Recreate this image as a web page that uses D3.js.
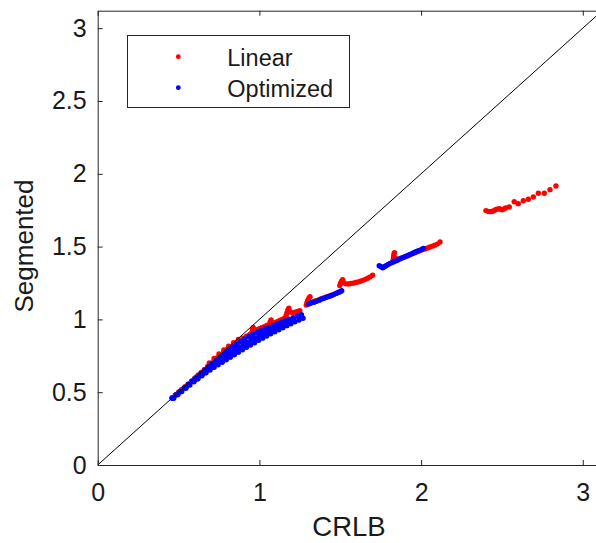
<!DOCTYPE html>
<html><head><meta charset="utf-8">
<script src="https://cdn.jsdelivr.net/npm/d3@7"></script>
<style>body{margin:0;background:#fff}svg{display:block}text{font-family:"Liberation Sans",Arial,Helvetica,sans-serif}</style>
</head><body><svg id="chart" width="596" height="543"></svg>
<script>
const xTicks = [0, 1, 2, 3];
const yTicks = [0, 0.5, 1, 1.5, 2, 2.5, 3];
const xLabel = "CRLB";
const yLabel = "Segmented";
const legendLabels = ["Linear", "Optimized"];
const seriesColors = ["#ff0000", "#0000ff"];

// Linear (red) points [CRLB, Segmented]
const linearPoints = [
 [0.46,0.462],[0.48,0.481],[0.50,0.50],[0.52,0.519],[0.54,0.538],[0.56,0.557],[0.58,0.576],[0.60,0.596],
 [0.62,0.616],[0.64,0.636],[0.66,0.656],[0.68,0.676],[0.70,0.697],[0.72,0.717],[0.74,0.737],[0.76,0.756],
 [0.78,0.775],[0.80,0.793],[0.82,0.81],[0.84,0.826],[0.86,0.842],[0.88,0.856],[0.90,0.87],[0.92,0.884],[0.94,0.897],
 [0.69,0.70],[0.72,0.732],[0.75,0.762],[0.78,0.79],[0.81,0.816],[0.84,0.84],[0.87,0.862],
 [0.955,0.915],[0.958,0.93],[0.962,0.944],[0.97,0.925],[0.985,0.93],[1.0,0.936],[1.015,0.943],[1.03,0.95],[1.045,0.958],
 [1.062,0.965],[1.066,0.98],[1.072,0.996],[1.08,0.975],[1.095,0.978],[1.11,0.985],[1.125,0.993],[1.14,1.0],[1.155,1.008],
 [1.165,1.025],[1.17,1.045],[1.176,1.065],[1.182,1.077],[1.19,1.052],[1.205,1.046],[1.22,1.05],[1.235,1.055],[1.25,1.06],
 [1.29,1.098],[1.294,1.115],[1.299,1.13],[1.306,1.145],[1.313,1.156],[1.32,1.118],[1.335,1.122],[1.35,1.128],[1.365,1.134],
 [1.38,1.14],[1.395,1.146],[1.41,1.152],[1.425,1.158],[1.44,1.164],[1.455,1.17],[1.47,1.177],[1.485,1.184],[1.50,1.19],
 [1.497,1.232],[1.502,1.248],[1.508,1.262],[1.515,1.272],[1.522,1.252],[1.535,1.244],[1.55,1.243],[1.565,1.246],[1.58,1.249],
 [1.595,1.253],[1.61,1.257],[1.625,1.262],[1.64,1.268],[1.655,1.275],[1.67,1.283],[1.685,1.292],[1.70,1.303],
 [1.828,1.412],[1.83,1.43],[1.832,1.446],[1.835,1.458],[1.845,1.418],[1.86,1.414],[1.875,1.42],[1.89,1.426],[1.905,1.432],
 [1.92,1.438],[1.935,1.445],[1.95,1.452],[1.965,1.459],[1.98,1.466],[1.995,1.473],[2.01,1.48],[2.025,1.484],[2.04,1.49],
 [2.055,1.497],[2.07,1.503],[2.085,1.51],[2.10,1.517],[2.117,1.532],
 [2.401,1.747],[2.414,1.742],[2.426,1.74],[2.437,1.742],[2.447,1.745],[2.458,1.751],[2.468,1.756],[2.482,1.76],[2.492,1.757],
 [2.502,1.753],[2.513,1.759],[2.523,1.765],[2.545,1.772],[2.576,1.808],[2.601,1.795],[2.632,1.815],[2.663,1.825],[2.694,1.841],
 [2.725,1.866],[2.762,1.866],[2.797,1.891],[2.834,1.916]
];

// Optimized (blue) points [CRLB, Segmented]
const optimizedPoints = [
 [0.46,0.458],[0.485,0.482],[0.51,0.506],[0.535,0.530],[0.56,0.554],[0.585,0.578],[0.61,0.602],[0.635,0.626],[0.66,0.650],
 [0.685,0.673],[0.71,0.697],[0.735,0.720],[0.76,0.743],[0.785,0.766],[0.81,0.788],[0.835,0.810],[0.86,0.830],[0.885,0.849],
 [0.91,0.866],[0.935,0.882],[0.96,0.896],[0.985,0.910],[1.01,0.922],[1.035,0.934],[1.06,0.945],[1.085,0.957],[1.11,0.968],
 [1.135,0.979],[1.16,0.990],[1.185,1.001],[1.21,1.012],[1.235,1.022],[1.26,1.032],
 [0.47,0.458],[0.495,0.482],[0.52,0.505],[0.545,0.527],[0.57,0.549],[0.595,0.571],[0.62,0.592],[0.645,0.613],[0.67,0.633],
 [0.695,0.652],[0.72,0.671],[0.745,0.689],[0.77,0.706],[0.795,0.723],[0.82,0.740],[0.845,0.757],[0.87,0.774],[0.895,0.791],
 [0.92,0.808],[0.945,0.824],[0.97,0.840],[0.995,0.856],[1.02,0.871],[1.045,0.886],[1.07,0.901],[1.095,0.915],[1.12,0.929],
 [1.145,0.943],[1.17,0.957],[1.195,0.970],[1.22,0.983],[1.245,0.996],[1.27,1.008],
 [0.60,0.585],[0.625,0.607],[0.65,0.628],[0.675,0.65],[0.70,0.672],[0.725,0.693],[0.75,0.713],[0.775,0.734],[0.80,0.754],
 [0.825,0.774],[0.85,0.792],[0.875,0.81],[0.90,0.826],[0.925,0.842],[0.95,0.857],[0.975,0.872],[1.0,0.886],[1.025,0.9],
 [1.05,0.913],[1.075,0.926],[1.10,0.939],[1.125,0.952],[1.15,0.964],[1.175,0.977],[1.20,0.99],
 [0.4975,0.489],[0.5475,0.535],[0.5975,0.581],[0.6475,0.632],[0.6975,0.678],[0.7475,0.721],[0.7975,0.764],[0.8475,0.805],
 [0.8975,0.84],[0.9475,0.872],[0.9975,0.90],[1.0475,0.926],[1.0975,0.95],[1.1475,0.973],[1.1975,0.997],[1.2475,1.012],
 [0.6125,0.591],[0.6625,0.633],[0.7125,0.674],[0.7625,0.712],[0.8125,0.75],[0.8625,0.785],[0.9125,0.818],[0.9625,0.85],
 [1.0125,0.88],[1.0625,0.908],[1.1125,0.936],[1.1625,0.962],[1.2125,0.988],
 [1.305,1.105],[1.315,1.11],[1.323,1.115],[1.338,1.118],[1.354,1.124],[1.37,1.132],[1.385,1.14],[1.40,1.146],[1.416,1.152],
 [1.431,1.158],[1.447,1.164],[1.462,1.172],[1.478,1.18],[1.493,1.188],[1.509,1.197],
 [1.741,1.369],[1.752,1.362],[1.763,1.355],[1.773,1.362],[1.783,1.369],[1.796,1.377],[1.808,1.385],[1.82,1.39],[1.832,1.396],
 [1.846,1.403],[1.859,1.41],[1.872,1.417],[1.886,1.424],[1.90,1.43],[1.915,1.437],[1.928,1.444],[1.942,1.451],[1.955,1.458],
 [1.968,1.465],[1.98,1.47],[1.993,1.474],[2.004,1.481],[2.014,1.488]
];

const svg = d3.select("#chart");
const x = d3.scaleLinear().domain([0, 3.12]).range([97.7, 602.2]);
const y = d3.scaleLinear().domain([0, 3.12]).range([465, 10.7]);
const axisColor = "#262626";

svg.append("defs").append("clipPath").attr("id", "plotClip")
  .append("rect").attr("x", x(0)).attr("y", y(3.12)).attr("width", x(3.12) - x(0)).attr("height", y(0) - y(3.12));

const plot = svg.append("g").attr("clip-path", "url(#plotClip)");
const r = 2.7;
plot.append("g").selectAll("circle").data(linearPoints).join("circle")
  .attr("cx", d => x(d[0])).attr("cy", d => y(d[1])).attr("r", r).attr("fill", seriesColors[0]);
plot.append("g").selectAll("circle").data(optimizedPoints).join("circle")
  .attr("cx", d => x(d[0])).attr("cy", d => y(d[1])).attr("r", r).attr("fill", seriesColors[1]);
plot.append("line").attr("x1", x(0)).attr("y1", y(0)).attr("x2", x(3.12)).attr("y2", y(3.12))
  .attr("stroke", "#000").attr("stroke-width", 1);

function styleAxis(g) {
  g.selectAll("path.domain").attr("stroke", axisColor).attr("stroke-width", 1);
  g.selectAll(".tick line").attr("stroke", axisColor);
  g.selectAll(".tick text").attr("fill", "#1a1a1a").style("font-size", "25px")
    .style("font-family", '"Liberation Sans",Arial,Helvetica,sans-serif');
}
svg.append("g").attr("transform", `translate(0,${y(0)})`)
  .call(d3.axisBottom(x).tickValues(xTicks).tickFormat(d3.format("d")).tickSize(-5).tickSizeOuter(0).tickPadding(18))
  .call(styleAxis);
svg.append("g").attr("transform", `translate(0,${y(3.12)})`)
  .call(d3.axisTop(x).tickValues(xTicks).tickFormat("").tickSize(-5).tickSizeOuter(0))
  .call(styleAxis);
svg.append("g").attr("transform", `translate(${x(0)},0)`)
  .call(d3.axisLeft(y).tickValues(yTicks).tickFormat(d => d === 0 ? "0" : String(d)).tickSize(-5).tickSizeOuter(0).tickPadding(11))
  .call(styleAxis);

svg.append("text").attr("x", 349).attr("y", 536).attr("text-anchor", "middle")
  .attr("fill", "#1a1a1a").style("font-size", "27.5px").text(xLabel);
svg.append("text").attr("transform", "translate(33,246) rotate(-90)").attr("text-anchor", "middle")
  .attr("fill", "#1a1a1a").style("font-size", "26px").text(yLabel);

const legend = svg.append("g");
legend.append("rect").attr("x", 127.5).attr("y", 35.5).attr("width", 222).attr("height", 72)
  .attr("fill", "#fff").attr("stroke", axisColor).attr("stroke-width", 1);
const legendY = [56.7, 87.7];
legendLabels.forEach((lab, i) => {
  legend.append("circle").attr("cx", 178.3).attr("cy", legendY[i]).attr("r", 2.4).attr("fill", seriesColors[i]);
  legend.append("text").attr("x", 227.3).attr("y", legendY[i] + 9).attr("fill", "#1a1a1a")
    .style("font-size", "23.5px").text(lab);
});
</script></body></html>
